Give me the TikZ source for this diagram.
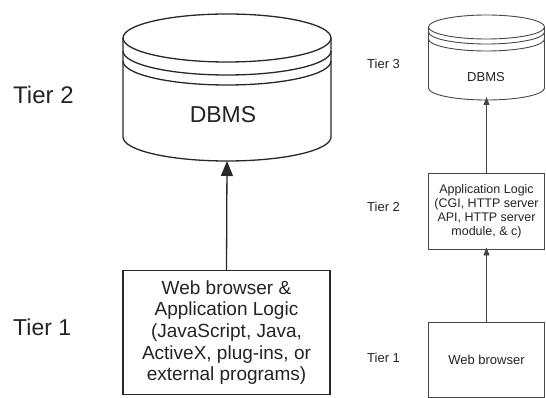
\documentclass[tikz,border=0pt]{standalone}
\usepackage{fontspec}
\setmainfont{Liberation Sans}
\usetikzlibrary{arrows.meta}

\begin{document}
\begin{tikzpicture}[x=1pt,y=-1pt,
  bigline/.style={line width=1.3pt,ln_dark},
  smallline/.style={line width=0.9pt,ln_gray},
  bigbox/.style={draw,bigline,align=center,inner sep=0pt,text=tx_dark},
  smallbox/.style={draw,smallline,align=center,inner sep=0pt,text=tx_dark},
  tierlabel/.style={anchor=west,inner sep=0pt,text=tx_dark}]
\definecolor{ln_dark}{RGB}{40,40,40}   %#282828
\definecolor{ln_gray}{RGB}{70,70,70}   %#464646
\definecolor{tx_dark}{RGB}{35,35,35}   %#232323

\useasboundingbox (0,0) rectangle (546,398);

% left cylinder
\def\la{123}
\def\lb{331}
\def\lcx{227}
\def\lcy{38}
\def\lrx{104}
\def\lry{24}
\def\lbot{137}

% right cylinder
\def\ra{428.5}
\def\rb{544.5}
\def\rcx{486.5}
\def\rcy{27}
\def\rrx{58}
\def\rry{12}
\def\rbot{88}

\coordinate (DBL) at (\lcx,{\lbot+\lry});
\coordinate (DBR) at (\rcx,{\rbot+\rry});

\draw [bigline] (\lcx,\lcy) ellipse [x radius=\lrx, y radius=\lry];
\draw [bigline] (\la,\lcy) -- (\la,\lbot)
  arc [start angle=180, end angle=0, x radius=\lrx, y radius=\lry] -- (\lb,\lcy);
\foreach \d in {13,23}
  \draw [bigline] (\la,\lcy+\d) arc [start angle=180, end angle=0, x radius=\lrx, y radius=\lry];

\draw [smallline] (\rcx,\rcy) ellipse [x radius=\rrx, y radius=\rry];
\draw [smallline] (\ra,\rcy) -- (\ra,\rbot)
  arc [start angle=180, end angle=0, x radius=\rrx, y radius=\rry] -- (\rb,\rcy);
\foreach \d in {5,12}
  \draw [smallline] (\ra,\rcy+\d) arc [start angle=180, end angle=0, x radius=\rrx, y radius=\rry];

\node (dbmsL) [text=tx_dark,font=\fontsize{23}{26}\selectfont] at (223,115) {DBMS};
\node (dbmsR) [text=tx_dark,font=\fontsize{13}{15}\selectfont] at (486,77) {DBMS};

\node (webapp) [bigbox,minimum width=207pt,minimum height=124pt,
  font=\fontsize{19}{21.7}\selectfont] at (226.5,332.5)
  {Web browser \&\\Application Logic\\(JavaScript, Java,\\ActiveX, plug-ins, or\\external programs)};

\node (applogic) [smallbox,minimum width=116pt,minimum height=76pt,
  font=\fontsize{12.5}{14}\selectfont] at (486.5,211)
  {Application Logic\\(CGI, HTTP server\\API, HTTP server\\module, \& c)};

\node (webbrowser) [smallbox,minimum width=116pt,minimum height=75pt,
  font=\fontsize{13}{15}\selectfont] at (486.5,359.5) {Web browser};

\node (tierLtwo) [tierlabel,font=\fontsize{24}{27}\selectfont] at (13,95) {Tier 2};
\node (tierLone) [tierlabel,font=\fontsize{23}{26}\selectfont] at (13,327) {Tier 1};
\node (tierRthree) [tierlabel,font=\fontsize{13}{15}\selectfont] at (367,64) {Tier 3};
\node (tierRtwo) [tierlabel,font=\fontsize{13}{15}\selectfont] at (367,207) {Tier 2};
\node (tierRone) [tierlabel,font=\fontsize{13}{15}\selectfont] at (367,358) {Tier 1};

\draw [bigline,-{Triangle[length=15pt,width=12pt]}] (webapp.north) -- (DBL);
\draw [smallline,-{Triangle[length=8pt,width=6pt]}] (applogic.north) -- ([yshift=3pt]DBR);
\draw [smallline,-{Triangle[length=8pt,width=6pt]}] (webbrowser.north) -- ([yshift=2pt]applogic.south);

\end{tikzpicture}
\end{document}
